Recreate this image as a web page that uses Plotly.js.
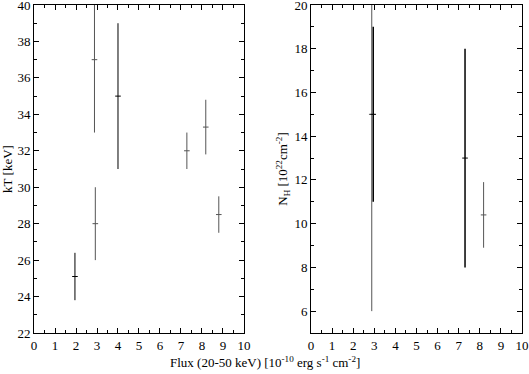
<!DOCTYPE html>
<html>
<head>
<meta charset="utf-8">
<script src="https://cdn.plot.ly/plotly-3.0.1.min.js"></script>
<style>
html, body { margin: 0; padding: 0; background: #fff; }
#plot { width: 529px; height: 374px; }
</style>
</head>
<body>
<div id="plot"></div>
<script>
// kT panel (left)
const ktFluxA = [1.95, 4.0];
const ktA = [25.1, 35];
const ktUpA = [1.3, 4];
const ktLoA = [1.3, 4];

const ktFluxB = [2.88, 2.92, 7.28, 8.18, 8.8];
const ktB = [37, 28, 32, 33.3, 28.5];
const ktUpB = [4, 2, 1, 1.5, 1];
const ktLoB = [4, 2, 1, 1.5, 1];

// NH panel (right)
const nhFluxA = [2.95, 7.3];
const nhA = [15, 13];
const nhUpA = [4, 5];
const nhLoA = [4, 5];

const nhFluxB = [2.88, 8.18];
const nhB = [15, 10.4];
const nhUpB = [6, 1.5];
const nhLoB = [9, 1.5];

const xTicks = [0, 1, 2, 3, 4, 5, 6, 7, 8, 9, 10];

const serif = 'Liberation Serif, Times New Roman, serif';
const black = '#000';
const grey = '#555';

function errTrace(x, y, up, lo, color, thick, xa, ya) {
    return {
        x: x, y: y, xaxis: xa, yaxis: ya,
        type: 'scatter', mode: 'markers',
        marker: { symbol: 'line-ew-open', size: 4, color: color, line: { width: 1, color: color } },
        error_y: { type: 'data', symmetric: false, array: up, arrayminus: lo,
                   width: 0, thickness: thick, color: color },
        cliponaxis: true, hoverinfo: 'none', showlegend: false
    };
}

const traces = [
    errTrace(ktFluxB, ktB, ktUpB, ktLoB, grey, 1, 'x', 'y'),
    errTrace(ktFluxA, ktA, ktUpA, ktLoA, black, 1, 'x', 'y'),
    errTrace(nhFluxB, nhB, nhUpB, nhLoB, grey, 1, 'x2', 'y2'),
    errTrace(nhFluxA, nhA, nhUpA, nhLoA, black, 1.5, 'x2', 'y2')
];

function xAxis(domain, anchor) {
    return {
        domain: domain, anchor: anchor, range: [0, 10],
        tickvals: xTicks, ticks: 'inside', ticklen: 5, tickwidth: 1, tickcolor: black,
        minor: { dtick: 0.5, ticks: 'inside', ticklen: 3, tickcolor: black },
        showline: true, linecolor: black, linewidth: 1, mirror: 'ticks',
        showgrid: false, zeroline: false, ticklabeloverflow: 'allow',
        tickfont: { family: serif, size: 13, color: black }
    };
}
function yAxis(range, anchor, title) {
    return {
        anchor: anchor, range: range, dtick: 2, tick0: 0,
        ticks: 'inside', ticklen: 5, tickwidth: 1, tickcolor: black,
        minor: { dtick: 1, ticks: 'inside', ticklen: 3, tickcolor: black },
        showline: true, linecolor: black, linewidth: 1, mirror: 'ticks',
        showgrid: false, zeroline: false, ticklabeloverflow: 'allow',
        tickfont: { family: serif, size: 13, color: black },
        title: { text: title, font: { family: serif, size: 13, color: black }, standoff: 3 }
    };
}

const layout = {
    width: 529, height: 374,
    margin: { l: 34, r: 7, t: 5, b: 41 },
    paper_bgcolor: '#fff', plot_bgcolor: '#fff',
    showlegend: false,
    xaxis: xAxis([0, 0.4303], 'y'),
    yaxis: yAxis([22, 40], 'x', 'kT [keV]'),
    xaxis2: xAxis([0.5676, 1], 'y2'),
    yaxis2: yAxis([5, 20], 'x2', 'N<sub>H</sub> [10<sup>22</sup>cm<sup>-2</sup>]'),
    annotations: [{
        text: 'Flux (20-50 keV) [10<sup>-10</sup> erg s<sup>-1</sup> cm<sup>-2</sup>]',
        xref: 'paper', yref: 'paper', x: 0.473, y: -0.088,
        xanchor: 'center', yanchor: 'middle', showarrow: false,
        font: { family: serif, size: 13, color: black }
    }]
};

Plotly.newPlot('plot', traces, layout, { staticPlot: true });
</script>
</body>
</html>
